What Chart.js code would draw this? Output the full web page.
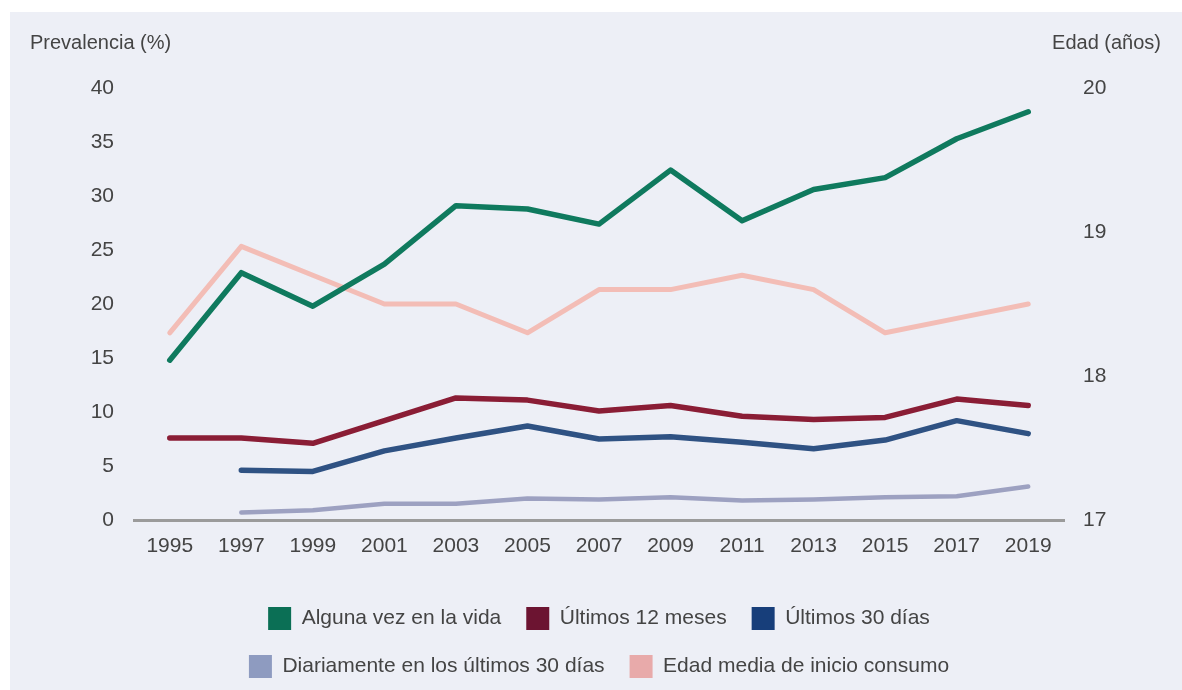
<!DOCTYPE html>
<html>
<head>
<meta charset="utf-8">
<script src="https://cdn.jsdelivr.net/npm/chart.js@4"></script>
<style>
  html, body { margin: 0; padding: 0; background: #fff; }
  #wrap { position: relative; width: 1182px; height: 690px; }
</style>
</head>
<body>
<div id="wrap"><canvas id="cannabisChart" width="1182" height="690"></canvas></div>
<script>
// years on the x axis
const years = ['1995', '1997', '1999', '2001', '2003', '2005', '2007', '2009', '2011', '2013', '2015', '2017', '2019'];

// prevalence (%), left axis
const algunaVez = [14.8, 22.9, 19.8, 23.7, 29.1, 28.8, 27.4, 32.4, 27.7, 30.6, 31.7, 35.3, 37.8];
const ultimos12 = [7.6, 7.6, 7.1, 9.2, 11.3, 11.1, 10.1, 10.6, 9.6, 9.3, 9.5, 11.2, 10.6];
const ultimos30 = [null, 4.6, 4.5, 6.4, 7.6, 8.7, 7.5, 7.7, 7.2, 6.6, 7.4, 9.2, 8.0];
const diario30 = [null, 0.7, 0.9, 1.5, 1.5, 2.0, 1.9, 2.1, 1.8, 1.9, 2.1, 2.2, 3.1];

// mean age of first use (years), right axis
const edadInicio = [18.3, 18.9, 18.7, 18.5, 18.5, 18.3, 18.6, 18.6, 18.7, 18.6, 18.3, 18.4, 18.5];

const seriesLabels = ['Alguna vez en la vida', 'Últimos 12 meses', 'Últimos 30 días', 'Diariamente en los últimos 30 días', 'Edad media de inicio consumo'];
const lineColors = ['#0f7a5e', '#8a1d35', '#2f5283', '#9da1c1', '#f3bdb6'];
const legendColors = ['#0b6f55', '#6c1431', '#173e7a', '#8e9bc0', '#e8aaaa'];

const FONT = "'Liberation Sans', Arial, sans-serif";
const textColor = '#444';

// light panel behind the chart + the two axis captions
const panelAndCaptions = {
	id: 'panelAndCaptions',
	beforeDraw(chart) {
		const { ctx } = chart;
		ctx.save();
		ctx.fillStyle = '#edeff6';
		ctx.fillRect(10, 12, chart.width - 10, chart.height - 12);
		ctx.restore();
	},
	afterDraw(chart) {
		const { ctx } = chart;
		ctx.save();
		ctx.font = '20px ' + FONT;
		ctx.fillStyle = textColor;
		ctx.textBaseline = 'middle';
		ctx.textAlign = 'left';
		ctx.fillText('Prevalencia (%)', 30, 43);
		ctx.textAlign = 'right';
		ctx.fillText('Edad (años)', 1161, 43);
		ctx.restore();
	},
};

const makeSet = (i, data, axis, width) => ({
	label: seriesLabels[i],
	data: data,
	yAxisID: axis,
	borderColor: lineColors[i],
	backgroundColor: legendColors[i],
	borderWidth: width,
	pointRadius: 0,
	pointHoverRadius: 0,
	tension: 0,
	spanGaps: false,
	borderJoinStyle: 'round',
	borderCapStyle: 'round',
});

const chartConfig = {
	type: 'line',
	data: {
		labels: years,
		datasets: [
			makeSet(0, algunaVez, 'y', 5.5),
			makeSet(1, ultimos12, 'y', 5.5),
			makeSet(2, ultimos30, 'y', 5.5),
			makeSet(3, diario30, 'y', 4.5),
			makeSet(4, edadInicio, 'y2', 5),
		],
	},
	options: {
		responsive: false,
		animation: false,
		layout: { padding: { top: 88, left: 0, right: 0, bottom: 2 } },
		plugins: {
			tooltip: { enabled: false },
			legend: {
				position: 'bottom',
				fullSize: false, // keeps the legend as wide as the plot, so it wraps into two rows
				labels: {
					boxWidth: 23,
					boxHeight: 23,
					padding: 25,
					color: textColor,
					font: { family: FONT, size: 21 },
					generateLabels(chart) {
						return chart.data.datasets.map((ds, i) => ({
							text: ds.label,
							fillStyle: legendColors[i],
							strokeStyle: legendColors[i],
							lineWidth: 0,
							fontColor: textColor,
							hidden: false,
							datasetIndex: i,
						}));
					},
				},
			},
		},
		scales: {
			x: {
				offset: true,
				grid: { display: false, drawTicks: false },
				border: { display: true, color: '#9b9b9b', width: 3 },
				ticks: { color: textColor, font: { family: FONT, size: 21 }, padding: 14, maxRotation: 0 },
				afterFit(scale) { scale.height = 62; },
			},
			y: {
				position: 'left',
				min: 0,
				max: 40,
				grid: { display: false, drawTicks: false },
				border: { display: false },
				ticks: { stepSize: 5, color: textColor, font: { family: FONT, size: 21 }, padding: 20 },
				afterFit(scale) { scale.width = 134; },
			},
			y2: {
				position: 'right',
				min: 17,
				max: 20,
				grid: { display: false, drawTicks: false },
				border: { display: false },
				ticks: { stepSize: 1, color: textColor, font: { family: FONT, size: 21 }, padding: 19 },
				afterFit(scale) { scale.width = 118; },
			},
		},
	},
	plugins: [panelAndCaptions],
};

const ctx = document.getElementById('cannabisChart');
const cannabisChart = new Chart(ctx, chartConfig);
</script>
</body>
</html>
